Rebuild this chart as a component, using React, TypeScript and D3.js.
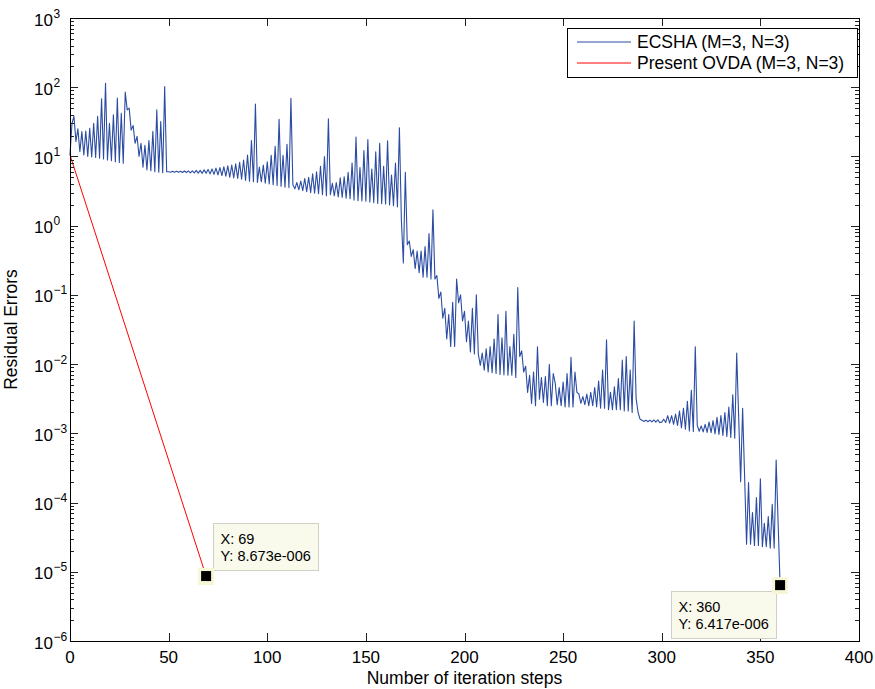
import React from 'react';
import * as d3 from 'd3';

const width = 875;
const height = 689;
const margin = { top: 18, right: 16, bottom: 48, left: 70 };

// ECSHA residual error, one value per iteration step (index = step)
const ecshaErrors = [
  10.5, 30, 38, 16.5, 25, 11.7, 22.8, 10.5, 23.3, 10,
  25.5, 9.8, 30, 9.7, 38, 9.4, 68, 9.2, 114, 8.9,
  30, 8.7, 40, 8.4, 70, 8.2, 42, 8.0, 85, 47,
  50, 24, 28, 15.5, 19.5, 10, 15.5, 7, 14.5, 6.4,
  17, 6.2, 23, 6.0, 47, 5.9, 32, 5.8, 102, 6.0,
  6.0, 5.9, 6.1, 5.9, 6.1, 5.9, 6.1, 5.85, 6.15, 5.85,
  6.2, 5.8, 6.2, 5.8, 6.3, 5.75, 6.3, 5.7, 6.4, 5.7,
  6.5, 5.6, 6.6, 5.5, 6.8, 5.4, 6.9, 5.3, 7.1, 5.2,
  7.3, 5.0, 7.5, 4.9, 7.8, 4.8, 8.2, 4.7, 8.9, 4.5,
  10.5, 4.4, 17, 4.3, 57, 4.2, 7.0, 4.3, 7.5, 4.1,
  8.4, 4.0, 10.4, 3.9, 14, 3.8, 34.5, 3.7, 10.4, 3.6,
  15, 3.55, 69, 3.9, 3.4, 4.2, 3.3, 4.4, 3.2, 4.8,
  3.1, 5.0, 3.0, 5.6, 2.95, 6.0, 2.9, 7.2, 2.8, 10,
  2.7, 35, 2.8, 4.1, 2.7, 4.2, 2.6, 4.9, 2.55, 5.1,
  2.5, 5.9, 2.45, 8.0, 2.35, 19, 2.3, 6.9, 2.28, 12.2,
  2.25, 17.6, 2.2, 6.6, 2.15, 11.7, 2.1, 15.5, 2.08, 7.2,
  2.05, 16.8, 2.0, 5.4, 1.95, 8.0, 1.87, 26, 1.2, 0.29,
  5.9, 0.53, 0.6, 0.36, 0.45, 0.24, 0.43, 0.21, 0.43, 0.18,
  0.5, 0.18, 0.77, 0.17, 1.7, 0.17, 0.19, 0.089, 0.11, 0.046,
  0.064, 0.023, 0.052, 0.018, 0.078, 0.018, 0.17, 0.077, 0.1, 0.042,
  0.058, 0.021, 0.042, 0.015, 0.064, 0.014, 0.1, 0.014, 0.0096, 0.0145,
  0.0082, 0.0166, 0.0077, 0.018, 0.0075, 0.023, 0.0073, 0.052, 0.0071, 0.024,
  0.007, 0.058, 0.0069, 0.018, 0.0069, 0.027, 0.0064, 0.128, 0.0129, 0.0155,
  0.0077, 0.0093, 0.0039, 0.0069, 0.0027, 0.0077, 0.0025, 0.0178, 0.0031, 0.0064,
  0.0028, 0.0066, 0.0025, 0.0099, 0.0025, 0.0073, 0.0053, 0.0026, 0.0046, 0.0025,
  0.0055, 0.0024, 0.0073, 0.0024, 0.0125, 0.0024, 0.0077, 0.0039, 0.0037, 0.0027,
  0.0034, 0.0026, 0.0037, 0.0025, 0.0039, 0.0025, 0.0046, 0.0024, 0.0057, 0.0023,
  0.0082, 0.0023, 0.0224, 0.0022, 0.0039, 0.0022, 0.0047, 0.0022, 0.0062, 0.0022,
  0.0114, 0.0021, 0.0129, 0.0021, 0.0082, 0.002, 0.042, 0.0032, 0.002, 0.0016,
  0.00155, 0.00148, 0.00155, 0.00147, 0.00155, 0.00146, 0.00156, 0.00145, 0.00157, 0.00143,
  0.00145, 0.0016, 0.00143, 0.0018, 0.0014, 0.0018, 0.00135, 0.0019, 0.0013, 0.0021,
  0.0012, 0.0023, 0.00115, 0.0029, 0.00108, 0.0042, 0.00106, 0.0178, 0.0013, 0.00107,
  0.00128, 0.00105, 0.00135, 0.00103, 0.00146, 0.00102, 0.00153, 0.00098, 0.0017, 0.00096,
  0.0018, 0.00093, 0.002, 0.0009, 0.0024, 0.00087, 0.0036, 0.00085, 0.0145, 0.0017,
  0.0002, 0.0023, 0.00024, 2.5e-5, 1.95e-4, 2.5e-5, 7.2e-5, 2.4e-5, 1.18e-4, 2.4e-5,
  2.2e-4, 2.3e-5, 5e-5, 2.3e-5, 6.3e-5, 2.2e-5, 9.4e-5, 2.2e-5, 4.1e-4, 5e-5,
  6.417e-6,
];

// present OVDA: straight decay on the log axis, start and end point
const ovdaSteps = [0, 69];
const ovdaErrors = [10.5, 8.673e-6];

const xTicks = [0, 50, 100, 150, 200, 250, 300, 350, 400];
const yExponents = [-6, -5, -4, -3, -2, -1, 0, 1, 2, 3];

const legendLabels = ['ECSHA (M=3, N=3)', 'Present OVDA (M=3, N=3)'];
const seriesColors = ['#2b4ca2', '#ff0000'];

const dataTips = [
  { step: 69, value: 8.673e-6, lines: ['X: 69', 'Y: 8.673e-006'], dx: 7, dy: -53 },
  { step: 360, value: 6.417e-6, lines: ['X: 360', 'Y: 6.417e-006'], dx: -109, dy: 6 },
];

const font = '"Liberation Sans", Arial, Helvetica, sans-serif';

export default function App() {
  const x = d3.scaleLinear().domain([0, 400]).range([margin.left, width - margin.right]);
  const y = d3.scaleLog().domain([1e-6, 1e3]).range([height - margin.bottom, margin.top]);

  const x0 = x.range()[0], x1 = x.range()[1];
  const y0 = y.range()[0], y1 = y.range()[1];

  const ecshaLine = d3.line<number>()
    .x((d, i) => x(i))
    .y((d) => y(d));

  const ovdaLine = d3.line<number>()
    .x((d, i) => x(ovdaSteps[i]))
    .y((d) => y(d));

  const logTicks = y.ticks();
  const isMajor = (v: number) => Math.abs(Math.log10(v) - Math.round(Math.log10(v))) < 1e-9;

  const tickColor = '#222';

  return (
    <svg width={width} height={height} style={{ position: 'absolute', left: 0, top: 0, background: '#fff' }}
      fontFamily={font}>
      <rect x={0} y={0} width={width} height={height} fill="#fff" />

      {/* data */}
      <g>
        <path d={ecshaLine(ecshaErrors) || ''} fill="none" stroke={seriesColors[0]} strokeWidth={1.1} strokeLinejoin="round" />
        <path d={ovdaLine(ovdaErrors) || ''} fill="none" stroke={seriesColors[1]} strokeWidth={1} />
      </g>

      {/* x ticks bottom + top */}
      <g stroke={tickColor} strokeWidth={1}>
        {xTicks.map((t) => (
          <g key={t}>
            <line x1={Math.round(x(t)) + 0.5} x2={Math.round(x(t)) + 0.5} y1={y0} y2={y0 - 8} />
            <line x1={Math.round(x(t)) + 0.5} x2={Math.round(x(t)) + 0.5} y1={y1} y2={y1 + 8} />
          </g>
        ))}
        {logTicks.map((t, i) => {
          const len = isMajor(t) ? 8 : 4;
          const yy = Math.round(y(t)) + 0.5;
          return (
            <g key={i}>
              <line x1={x0} x2={x0 + len} y1={yy} y2={yy} />
              <line x1={x1} x2={x1 - len} y1={yy} y2={yy} />
            </g>
          );
        })}
      </g>

      {/* axes box */}
      <rect x={x0 + 0.5} y={y1 + 0.5} width={x1 - x0} height={y0 - y1} fill="none" stroke="#000" strokeWidth={1} />

      {/* x tick labels */}
      <g fontSize={17} fill="#000" textAnchor="middle">
        {xTicks.map((t) => (
          <text key={t} x={x(t)} y={y0 + 22}>{t}</text>
        ))}
      </g>

      {/* y tick labels */}
      <g fill="#000">
        {yExponents.map((e) => {
          const yy = y(Math.pow(10, e));
          return (
            <g key={e}>
              <text x={53} y={yy + 7.5} fontSize={17} textAnchor="end">10</text>
              <text x={53.5} y={yy - 0.5} fontSize={12} textAnchor="start">{e < 0 ? '\u2212' + Math.abs(e) : String(e)}</text>
            </g>
          );
        })}
      </g>

      {/* axis titles */}
      <text x={(x0 + x1) / 2} y={684} fontSize={17.5} textAnchor="middle" fill="#000">Number of iteration steps</text>
      <text transform={`translate(17,${(y0 + y1) / 2}) rotate(-90)`} fontSize={17.5} textAnchor="middle" fill="#000">Residual Errors</text>

      {/* legend */}
      <g>
        <rect x={567.5} y={28.5} width={290} height={49} fill="#fff" stroke="#000" strokeWidth={1} />
        {legendLabels.map((label, i) => {
          const cy = 42 + i * 21;
          return (
            <g key={label}>
              <line x1={577} x2={631} y1={cy} y2={cy} stroke={seriesColors[i]} strokeWidth={1} />
              <text x={637} y={cy + 6.3} fontSize={17.5} fill="#000">{label}</text>
            </g>
          );
        })}
      </g>

      {/* data tips */}
      {dataTips.map((tip) => {
        const mx = x(tip.step);
        const my = y(tip.value);
        const bx = Math.round(mx + tip.dx) + 0.5;
        const by = Math.round(my + tip.dy) + 0.5;
        return (
          <g key={tip.step}>
            <rect x={bx} y={by} width={105} height={47} fill="#f9f9ec" stroke="#cfcfc4" strokeWidth={1} />
            {tip.lines.map((l, i) => (
              <text key={l} x={bx + 7} y={by + 20 + i * 17} fontSize={14.5} fill="#000">{l}</text>
            ))}
            <rect x={mx - 8} y={my - 8} width={16} height={17} fill="#f7f7d7" />
            <rect x={mx - 5} y={my - 5} width={10} height={10} fill="#000" />
          </g>
        );
      })}
    </svg>
  );
}
